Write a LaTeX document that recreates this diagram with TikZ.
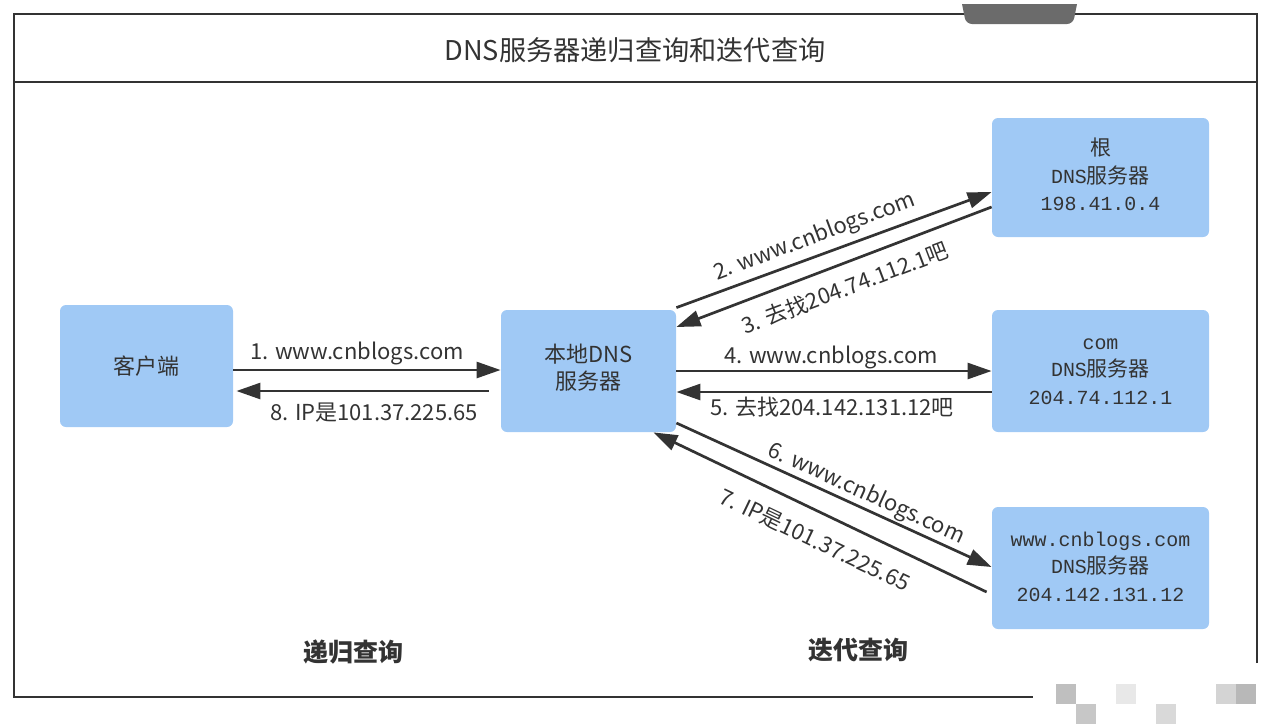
\documentclass[tikz,border=0pt]{standalone}
\usepackage{fontspec}
\setmainfont{Noto Sans CJK SC}
\newfontfamily\monof[Scale=0.95]{Liberation Mono}
\usetikzlibrary{arrows.meta}
\definecolor{boxblue}{RGB}{160,201,245}
\definecolor{ink}{RGB}{51,51,51}
\definecolor{tabgray}{RGB}{107,107,107}
\begin{document}
\begin{tikzpicture}[x=0.5pt,y=-0.5pt,
  srv/.style={fill=boxblue, rounded corners=3pt, inner sep=0pt, align=center, text=ink},
  cbox/.style={srv, font=\fontsize{11}{13.5}\selectfont},
  sbox/.style={srv, minimum width=108.5pt, font=\fontsize{10.5}{13.75}\selectfont},
  arr/.style={draw=ink, line width=1.35pt, -{Triangle[length=12pt,width=8pt]}},
  lbl/.style={text=ink, font=\fontsize{11}{13}\selectfont, inner sep=0pt},
  bold/.style={text=ink, font=\fontsize{12.5}{15}\selectfont\bfseries, inner sep=0pt},
]
\useasboundingbox (0,0) rectangle (1268,724);
% frame
\draw[ink, line width=1pt] (1257,663) -- (1257,14) -- (14,14) -- (14,697) -- (1033,697);
\draw[ink, line width=1pt] (14,82) -- (1257,82);
\fill[tabgray] (962,4) [rounded corners=3pt] -- (966,24) -- (1073,24) [sharp corners] -- (1077,4) -- cycle;
% watermark squares
\fill[black!25] (1056,684) rectangle (1076,704);
\fill[black!22] (1076,704) rectangle (1096,724);
\fill[black!9] (1116,684) rectangle (1136,704);
\fill[black!15] (1156,704) rectangle (1176,724);
\fill[black!17] (1216,684) rectangle (1236,704);
\fill[black!28] (1236,684) rectangle (1256,704);
% title
\node[text=ink, font=\fontsize{13.6}{16}\selectfont, inner sep=0pt] (title) at (635,50) {DNS服务器递归查询和迭代查询};
% boxes
\node[cbox, minimum width=86.5pt, minimum height=61pt] (client) at (146.5,366) {客户端};
\node[cbox, minimum width=87.5pt, minimum height=61pt] (local) at (588.5,371) {\strut 本地DNS\\\strut 服务器};
\node[sbox, minimum height=59.5pt] (root) at (1100.5,177.5) {\strut 根\\\strut{\monof DNS}服务器\\\strut{\monof 198.41.0.4}};
\node[sbox, minimum height=61pt] (com) at (1100.5,371) {\strut{\monof com}\\\strut{\monof DNS}服务器\\\strut{\monof 204.74.112.1}};
\node[sbox, minimum height=61pt] (www) at (1100.5,568) {\strut{\monof www.cnblogs.com}\\\strut{\monof DNS}服务器\\\strut{\monof 204.142.131.12}};
% connectors
\draw[arr] ([yshift=-2pt]client.east) -- ([yshift=0.5pt]local.west);
\draw[arr] ([xshift=-6pt,yshift=-10pt]local.west) -- ([xshift=1.5pt,yshift=-12.5pt]client.east);
\draw[arr] ([yshift=1pt]local.north east) -- ([yshift=-7.25pt]root.west);
\draw[arr] ([yshift=-14.75pt]root.west) -- ([yshift=22pt]local.east);
\draw[arr] (local.east) -- (com.west);
\draw[arr] ([yshift=-10.5pt]com.west) -- ([yshift=-10.5pt]local.east);
\draw[arr] ([yshift=-26pt]local.east) -- ([yshift=0.5pt]www.west);
\draw[arr] ([xshift=-2.5pt,yshift=-12pt]www.west) -- ([xshift=-11.5pt]local.south east);
% labels
\node[lbl] (l1) at (357,353) {1. www.cnblogs.com};
\node[lbl] (l8) at (374,413) {8. IP是101.37.225.65};
\node[lbl, rotate=20.5] (l2) at (815,237) {2. www.cnblogs.com};
\node[lbl, rotate=20.8] (l3) at (845,288) {3. 去找204.74.112.1吧};
\node[lbl] (l4) at (831,357) {4. www.cnblogs.com};
\node[lbl] (l5) at (832,407) {5. 去找204.142.131.12吧};
\node[lbl, rotate=-24.6] (l6) at (866,494) {6. www.cnblogs.com};
\node[lbl, rotate=-25.6] (l7) at (815,540) {7. IP是101.37.225.65};
\node[bold] (rec) at (353,652) {递归查询};
\node[bold] (itr) at (858,650) {迭代查询};
\end{tikzpicture}
\end{document}
